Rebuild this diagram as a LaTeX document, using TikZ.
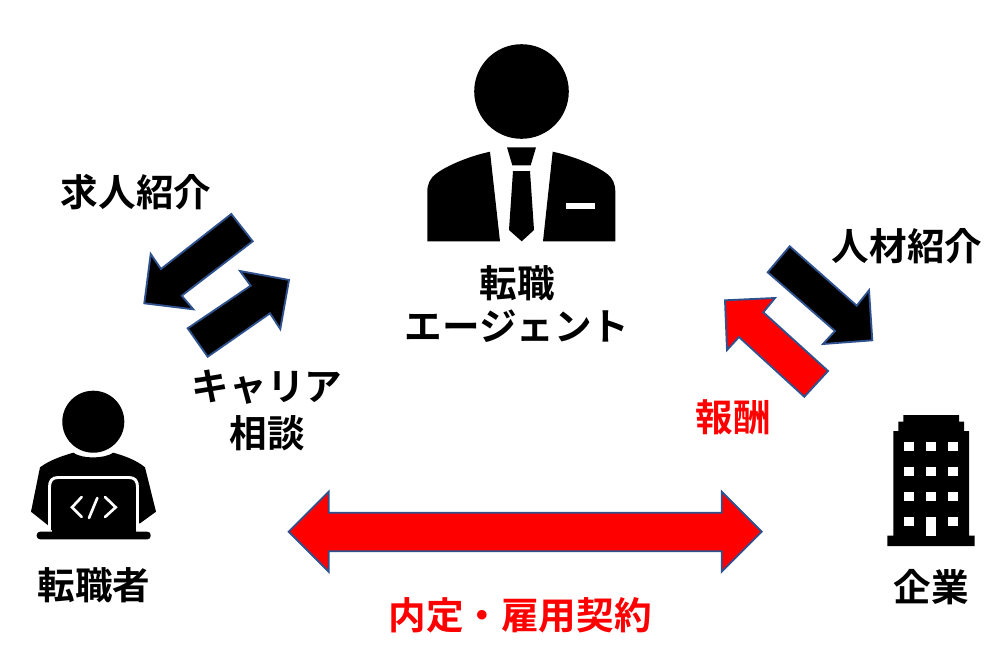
\documentclass[tikz,border=0pt]{standalone}
\usepackage{fontspec}
\setmainfont{Noto Sans CJK JP}[BoldFont={Noto Sans CJK JP Bold}]
\definecolor{edgeblue}{HTML}{2F528F}
\tikzset{
  x=0.75pt,y=-0.75pt,
  lbl/.style={font=\fontsize{28.2pt}{33pt}\selectfont\bfseries,text=black,inner sep=0pt,align=center},
  redlbl/.style={lbl,text=red},
  blk/.style={fill=black,draw=edgeblue,line width=1.4pt,line join=miter},
  redarrow/.style={fill=red,draw=edgeblue,line width=1.4pt,line join=miter},
  icon/.style={fill=black,draw=none},
  hole/.style={fill=white,draw=none},
}
\begin{document}
\begin{tikzpicture}
\useasboundingbox[fill=white] (0,0) rectangle (1006,661);
% agent icon
\fill[icon] (521.5,91.5) circle[radius=47.3];
\fill[icon] (490,151.7) .. controls (470,156) and (448,165) .. (436.7,173.3) .. controls (430,178) and (427.3,184) .. (427.3,192) -- (427.3,241.3) -- (500,241.3) -- cycle;
\fill[icon] (552.7,151.7) .. controls (573,156) and (595,165) .. (606.3,173.3) .. controls (613,178) and (615.3,184) .. (615.3,192) -- (615.3,241.3) -- (543,241.3) -- cycle;
\fill[hole] (565.7,203.3) rectangle (595.3,209.3);
\fill[icon] (507,147.3) -- (536,147.3) -- (530.7,165.3) -- (512.3,165.3) -- cycle;
\fill[icon] (513,171) -- (530,171) -- (534,230) -- (521.7,241.3) -- (509,230) -- cycle;
% job changer icon
\fill[icon] (93.3,421.7) circle[radius=31];
\fill[icon] (73.3,452.7) .. controls (82,459) and (104,459) .. (113.3,452.7) .. controls (125,456) and (136,460) .. (145,467.3) -- (156,511.7) -- (140,523.3) -- (47.7,525) -- (31,511.7) -- (40,467.3) .. controls (50,460) and (62,456) .. (73.3,452.7) -- cycle;
\draw[white,line width=2.2pt,fill=black,line join=round] (49.5,530) -- (49.5,487) .. controls (49.5,481) and (52,477.5) .. (58,477.5) -- (129,477.5) .. controls (135,477.5) and (137.5,481) .. (137.5,487) -- (137.5,530);
\fill[icon,rounded corners=2.5pt] (36.7,531.7) rectangle (150.7,539.3);
\fill[icon] (52,525) rectangle (135.5,532.5);
\draw[white,line width=2pt,line cap=round,line join=miter] (81.7,497) -- (72,507.3) -- (81.7,517);
\draw[white,line width=2pt,line cap=round] (97.3,498) -- (89,518);
\draw[white,line width=2pt,line cap=round,line join=miter] (105,497) -- (115.7,507.3) -- (105,517);
% company icon
\fill[icon] (903.3,415) -- (959,415) -- (959,421.7) -- (964,421.7) -- (964,431) -- (969,431) -- (969,535.7) -- (974.7,535.7) -- (974.7,546) -- (887.3,546) -- (887.3,535.7) -- (893.3,535.7) -- (893.3,431) -- (898.3,431) -- (898.3,421.7) -- (903.3,421.7) -- cycle;
\foreach \wy in {441.7,466.7,491.7}{
  \foreach \wx in {904.3,926,948}{
    \fill[hole] (\wx,\wy) rectangle +(9.7,9.7);
  }
}
\fill[hole] (904.3,516.7) rectangle +(9.7,9.7);
\fill[hole] (948,516.7) rectangle +(9.7,9.7);
\fill[hole] (926,516.7) rectangle (935.7,535.7);
% arrows
\draw[blk] (231.3,214) -- (252.7,241.3) -- (181.7,295.7) -- (193.3,309.3) -- (144.3,303.3) -- (150.7,254) -- (161,269) -- cycle;
\draw[blk] (187.7,328.3) -- (250.7,285.7) -- (240,271) -- (289,280) -- (280.3,329) -- (270,313.3) -- (207.7,356.7) -- cycle;
\draw[blk] (789.7,246.3) -- (856.7,305.7) -- (869,290.3) -- (872.3,340.3) -- (823,344) -- (835,331) -- (767.7,272.3) -- cycle;
\draw[redarrow] (725,300.3) -- (775,298) -- (763.3,312.3) -- (828,371) -- (804.3,396.7) -- (739,337) -- (727,350) -- cycle;
\draw[redarrow] (288.7,531.7) -- (328.7,491.7) -- (328.7,512.7) -- (721.7,512.7) -- (721.7,491.7) -- (761.7,531.7) -- (721.7,571.7) -- (721.7,551.3) -- (328.7,551.3) -- (328.7,571.7) -- cycle;
% labels
\node[lbl] (kyujin) at (136,192) {求人紹介};
\node[lbl] (jinzai) at (907,246) {人材紹介};
\node[lbl] (tenshoku) at (517,283) {転職};
\node[lbl] (agent) at (517,326) {エージェント};
\node[lbl] (career) at (267,387) {キャリア};
\node[lbl] (sodan) at (267,433) {相談};
\node[redlbl] (hoshu) at (733,417) {報酬};
\node[lbl] (tenshokusha) at (94,585) {転職者};
\node[lbl] (kigyo) at (931,587) {企業};
\node[redlbl] (naitei) at (520,615) {内定・雇用契約};
\end{tikzpicture}
\end{document}
